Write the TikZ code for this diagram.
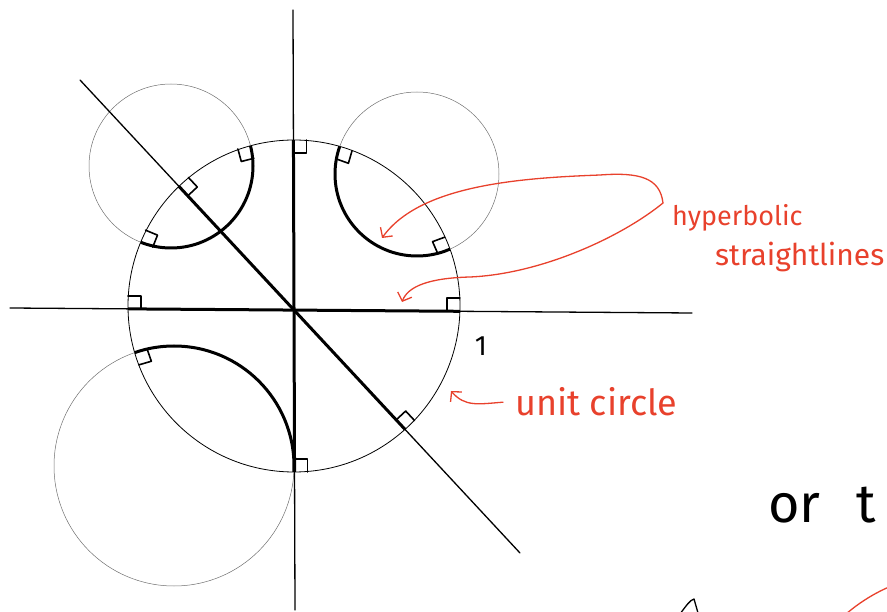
\documentclass[tikz,border=0pt]{standalone}
\usepackage{fontspec}
\setsansfont{Fira Sans}
\usetikzlibrary{arrows.meta, calc, intersections}
\definecolor{cred}{HTML}{E8412C}
\definecolor{cgrey}{HTML}{707070}
\tikzset{
  every picture/.style={font=\sffamily, line cap=round, line join=round},
  axis/.style={draw=black, line width=1.3pt},
  thincircle/.style={draw=cgrey, line width=0.5pt},
  unitline/.style={draw=black, line width=0.8pt},
  geodesic/.style={draw=black, line width=3pt},
  rmark/.style={draw=black, line width=1.6pt},
  redarrow/.style={draw=cred, line width=1.3pt, -{Straight Barb[length=7pt, width=15pt]}},
  redtext/.style={text=cred, inner sep=0pt},
}
\newcommand\rs{13}
\newcommand\rsd{13pt}
% right angle mark: corner, angle along the line, angle along the circle
\newcommand\perpmark[3]{%
  \draw[rmark] ($(#1)+(#2:\rs)$) -- ($(#1)+(#2:\rs)+(#3:\rs)$) -- ($(#1)+(#3:\rs)$);}
% right angle mark: corner, point on one side, point on the other side
\newcommand\perpmarkto[3]{%
  \draw[rmark] ($(#1)!\rsd!(#2)$) -- ($(#1)!\rsd!(#2)+(#1)!\rsd!(#3)-(#1)$) -- ($(#1)!\rsd!(#3)$);}

\begin{document}
\begin{tikzpicture}[x=1pt, y=-1pt]
  \useasboundingbox (0,0) rectangle (887,612);
  % unit circle and the three circles orthogonal to it
  \coordinate (o) at (294,306);
  \coordinate (c1) at (171,166);
  \coordinate (c2) at (417,174);
  \coordinate (c3) at (174,466);
  \draw[unitline, name path=unit] (o) circle [radius=166];
  \draw[thincircle, name path=k1] (c1) circle [radius=82];
  \draw[thincircle, name path=k2] (c2) circle [radius=82];
  \draw[thincircle] (c3) circle [radius=120];
  % axes and the diagonal
  \draw[axis, name path=hax] (10,308) -- (692,313);
  \draw[axis, name path=vax] (293,10) -- (295,610);
  \draw[axis, name path=dax] (80,80) -- (520,553);
  \path[name intersections={of=hax and unit, sort by=hax, name=h}];
  \path[name intersections={of=vax and unit, sort by=vax, name=v}];
  \path[name intersections={of=dax and unit, sort by=dax, name=d}];
  \path[name intersections={of=k1 and unit, name=i}];
  \path[name intersections={of=k2 and unit, name=j}];
  \coordinate (k3top) at (134.6,352.6);
  % hyperbolic straight lines, inside the disc
  \begin{scope}
    \clip (o) circle [radius=166];
    \draw[geodesic] (h-1) -- (h-2);
    \draw[geodesic] (v-1) -- (v-2);
    \draw[geodesic] (d-1) -- (d-2);
    \draw[geodesic] (c1) circle [radius=82];
    \draw[geodesic] (c2) circle [radius=82];
    \draw[geodesic] (c3) circle [radius=120];
  \end{scope}
  % right angles at the rim
  \perpmark{h-1}{0}{-90}
  \perpmark{h-2}{180}{-90}
  \perpmark{v-1}{90}{0}
  \perpmark{v-2}{-90}{0}
  \perpmark{d-1}{47}{-43}
  \perpmark{d-2}{-133}{-43}
  \perpmarkto{i-1}{o}{c1}
  \perpmarkto{i-2}{o}{c1}
  \perpmarkto{j-1}{o}{c2}
  \perpmarkto{j-2}{o}{c2}
  \perpmarkto{k3top}{o}{c3}
  \node[font=\sffamily\fontsize{28}{30}\selectfont, inner sep=0pt, anchor=base] (one) at (481,356) {1};
  % red notes
  \node[redtext, font=\sffamily\fontsize{27}{30}\selectfont, anchor=base west] (hyp) at (672,226) {hyperbolic};
  \node[redtext, font=\sffamily\fontsize{30}{32}\selectfont, anchor=base west] (str) at (715,266) {straightlines};
  \node[redtext, font=\sffamily\fontsize{36}{38}\selectfont, anchor=base west] (uc) at (515,416) {unit circle};
  \coordinate (fork) at (663,203);
  \coordinate (tip1) at (382,238);
  \coordinate (tip2) at (402,302);
  \coordinate (uctip) at (451,391);
  \draw[redarrow] (fork) .. controls (660,178) and (640,172) .. (600,175)
    .. controls (520,178) and (420,185) .. (tip1);
  \draw[redarrow] (fork) .. controls (620,238) and (540,274) .. (470,277)
    .. controls (430,278) and (408,286) .. (tip2);
  \draw[redarrow] ([xshift=-12pt]uc.west) .. controls +(-25,2) and +(14,16) .. (uctip);
  % cut off at the edge
  \node[font=\sffamily\fontsize{54}{58}\selectfont, inner sep=0pt, anchor=base west] (ort) at (768,522) {or\hspace{36pt}t};
  \draw[axis] (680,614) .. controls (686,606) and (690,600) .. (694,599) -- (698,613);
  \draw[cred, line width=1.3pt] (846,614) .. controls (860,602) and (875,593) .. (889,587);
\end{tikzpicture}
\end{document}
